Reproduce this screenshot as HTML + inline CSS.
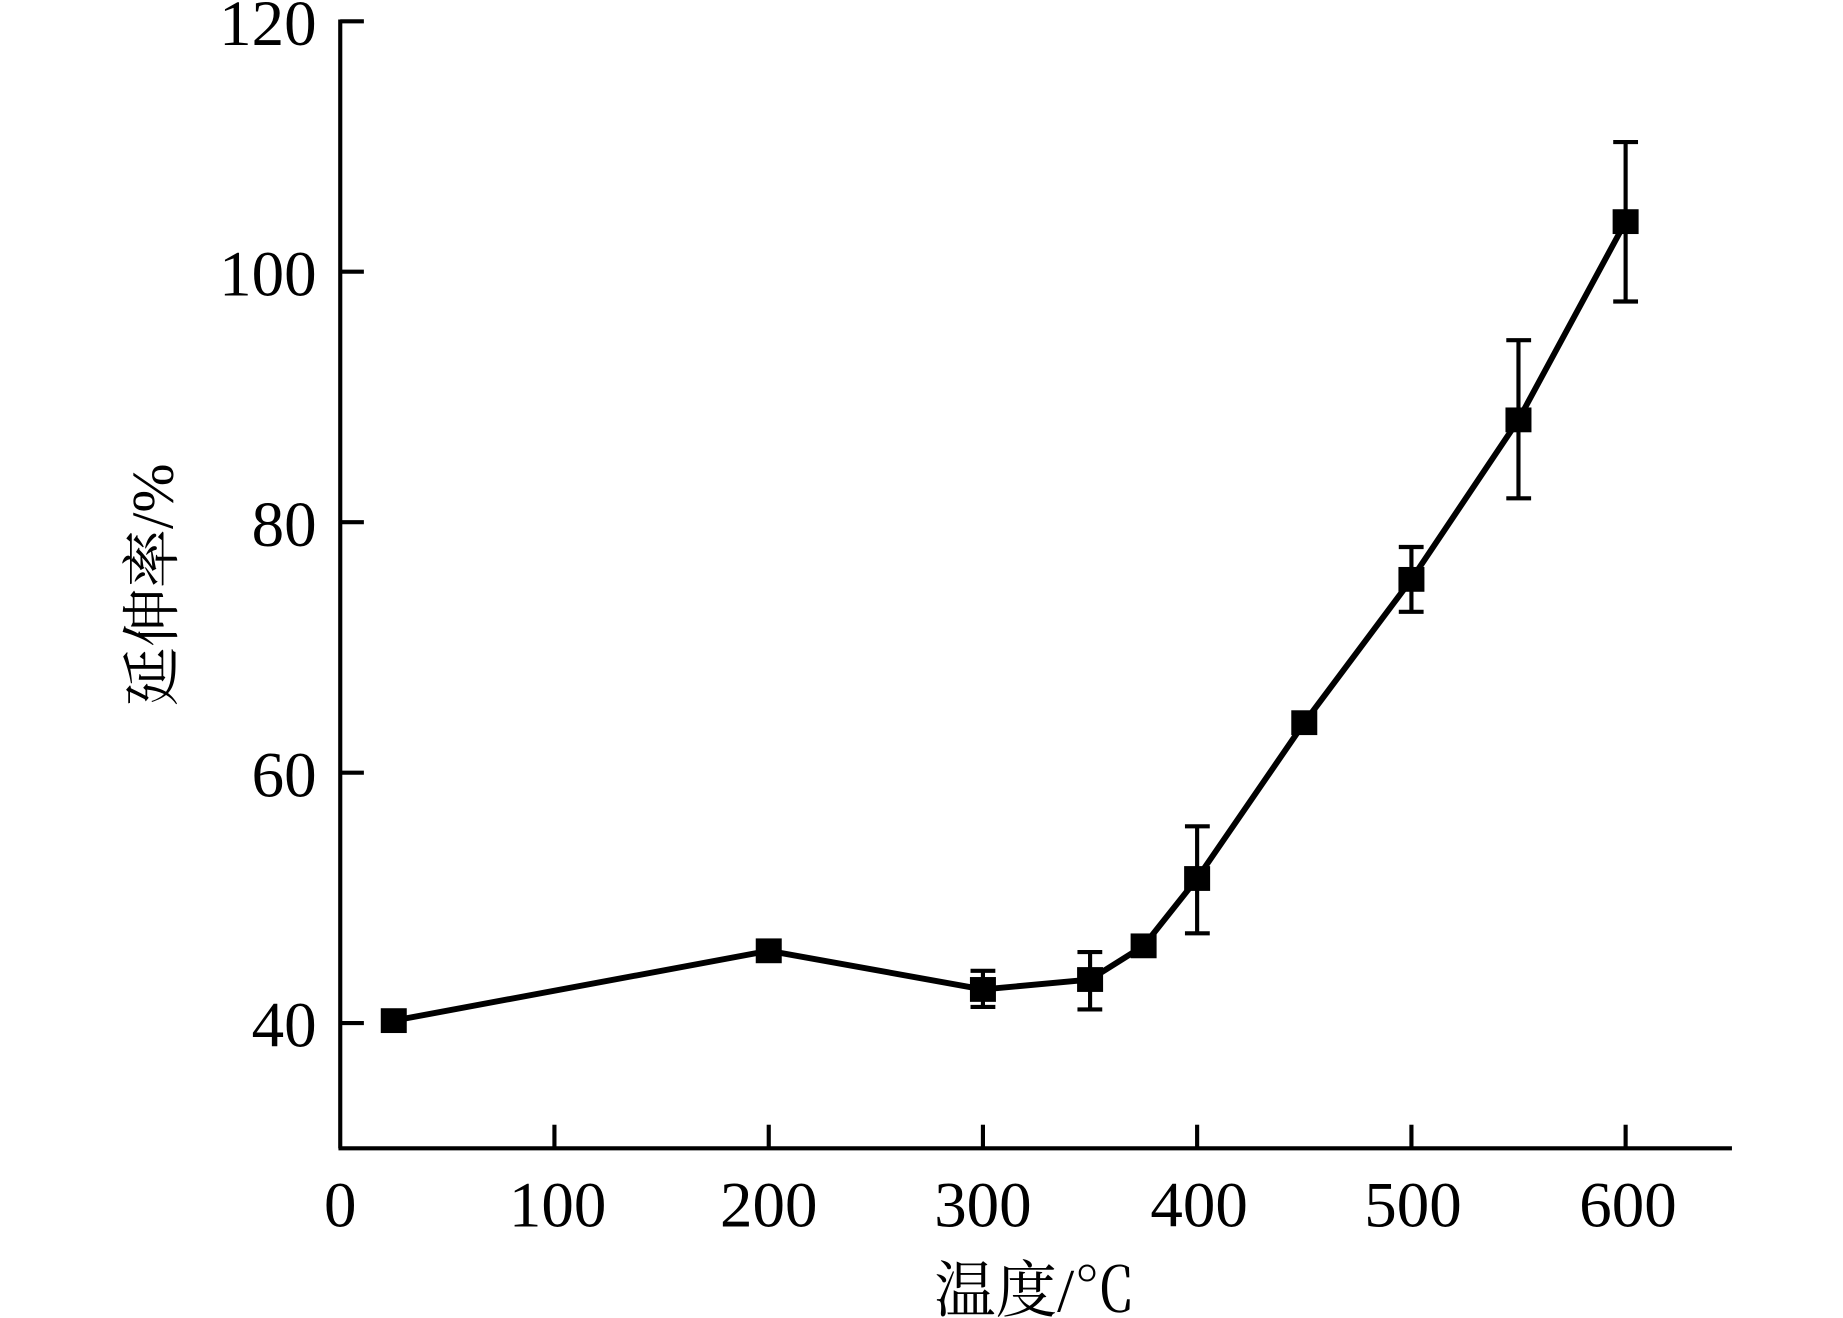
<!DOCTYPE html>
<html><head><meta charset="utf-8"><style>html,body{margin:0;padding:0;background:#fff;}svg{display:block;}</style></head>
<body>
<svg width="1843" height="1318" viewBox="0 0 1560 1115.6" preserveAspectRatio="none" xmlns="http://www.w3.org/2000/svg">
<rect width="1560" height="1116" fill="#fff"/>
<g stroke="#000" stroke-width="3.5" fill="none">
<line x1="288" y1="16.5" x2="288" y2="972"/>
<line x1="286.5" y1="972" x2="1466" y2="972"/>
<line x1="288" y1="18" x2="308" y2="18"/>
<line x1="288" y1="230" x2="308" y2="230"/>
<line x1="288" y1="442" x2="308" y2="442"/>
<line x1="288" y1="654" x2="308" y2="654"/>
<line x1="288" y1="866" x2="308" y2="866"/>
<line x1="469.3" y1="972" x2="469.3" y2="952"/>
<line x1="650.7" y1="972" x2="650.7" y2="952"/>
<line x1="832" y1="972" x2="832" y2="952"/>
<line x1="1013.3" y1="972" x2="1013.3" y2="952"/>
<line x1="1194.7" y1="972" x2="1194.7" y2="952"/>
<line x1="1376" y1="972" x2="1376" y2="952"/>
</g>
<g font-family="Liberation Serif, serif" font-size="55" fill="#000" text-anchor="end">
<text x="268" y="38">120</text>
<text x="268" y="250">100</text>
<text x="268" y="462">80</text>
<text x="268" y="674">60</text>
<text x="268" y="886">40</text>
</g>
<g font-family="Liberation Serif, serif" font-size="55" fill="#000" text-anchor="middle">
<text x="288" y="1038">0</text>
<text x="472" y="1038">100</text>
<text x="650.7" y="1038">200</text>
<text x="832" y="1038">300</text>
<text x="1015" y="1038">400</text>
<text x="1196" y="1038">500</text>
<text x="1378" y="1038">600</text>
</g>
<text x="876" y="1110" font-family="Liberation Serif, 'Noto Serif CJK SC', serif" font-size="52" text-anchor="middle">温度/℃</text>
<text transform="translate(146,495) rotate(-90)" font-family="Liberation Serif, 'Noto Serif CJK SC', serif" font-size="50" text-anchor="middle">延伸率/%</text>
<polyline fill="none" stroke="#000" stroke-width="5" stroke-linejoin="round" points="333.3,863.9 650.7,804.8 832,837.5 922.7,829.1 968,800.6 1013.3,743.6 1104,611.7 1194.7,490.4 1285.3,355.4 1376,187.6"/>
<g stroke="#000" stroke-width="3.5" fill="none">
<path d="M333.3 857.6V870.2M323 857.6h21M323 870.2h21"/>
<path d="M650.7 796.4V813.3M640 796.4h21M640 813.3h21"/>
<path d="M832 821.7V852.3M821.5 821.7h21M821.5 852.3h21"/>
<path d="M922.7 805.9V854.4M912 805.9h21M912 854.4h21"/>
<path d="M968 793.2V808M957.5 793.2h21M957.5 808h21"/>
<path d="M1013.3 699.4V790M1003 699.4h21M1003 790h21"/>
<path d="M1104 604.4V619M1093.5 604.4h21M1093.5 619h21"/>
<path d="M1194.7 463V517.9M1184 463h21M1184 517.9h21"/>
<path d="M1285.3 287.9V421.8M1275 287.9h21M1275 421.8h21"/>
<path d="M1376 120.2V255.2M1365.5 120.2h21M1365.5 255.2h21"/>
</g>
<g fill="#000">
<rect x="322.3" y="853.4" width="22" height="21"/>
<rect x="639.7" y="794.3" width="22" height="21"/>
<rect x="821" y="827" width="22" height="21"/>
<rect x="911.7" y="818.6" width="22" height="21"/>
<rect x="957" y="790.1" width="22" height="21"/>
<rect x="1002.3" y="733.1" width="22" height="21"/>
<rect x="1093" y="601.2" width="22" height="21"/>
<rect x="1183.7" y="479.9" width="22" height="21"/>
<rect x="1274.3" y="344.9" width="22" height="21"/>
<rect x="1365" y="177.1" width="22" height="21"/>
</g>
</svg>
</body></html>
